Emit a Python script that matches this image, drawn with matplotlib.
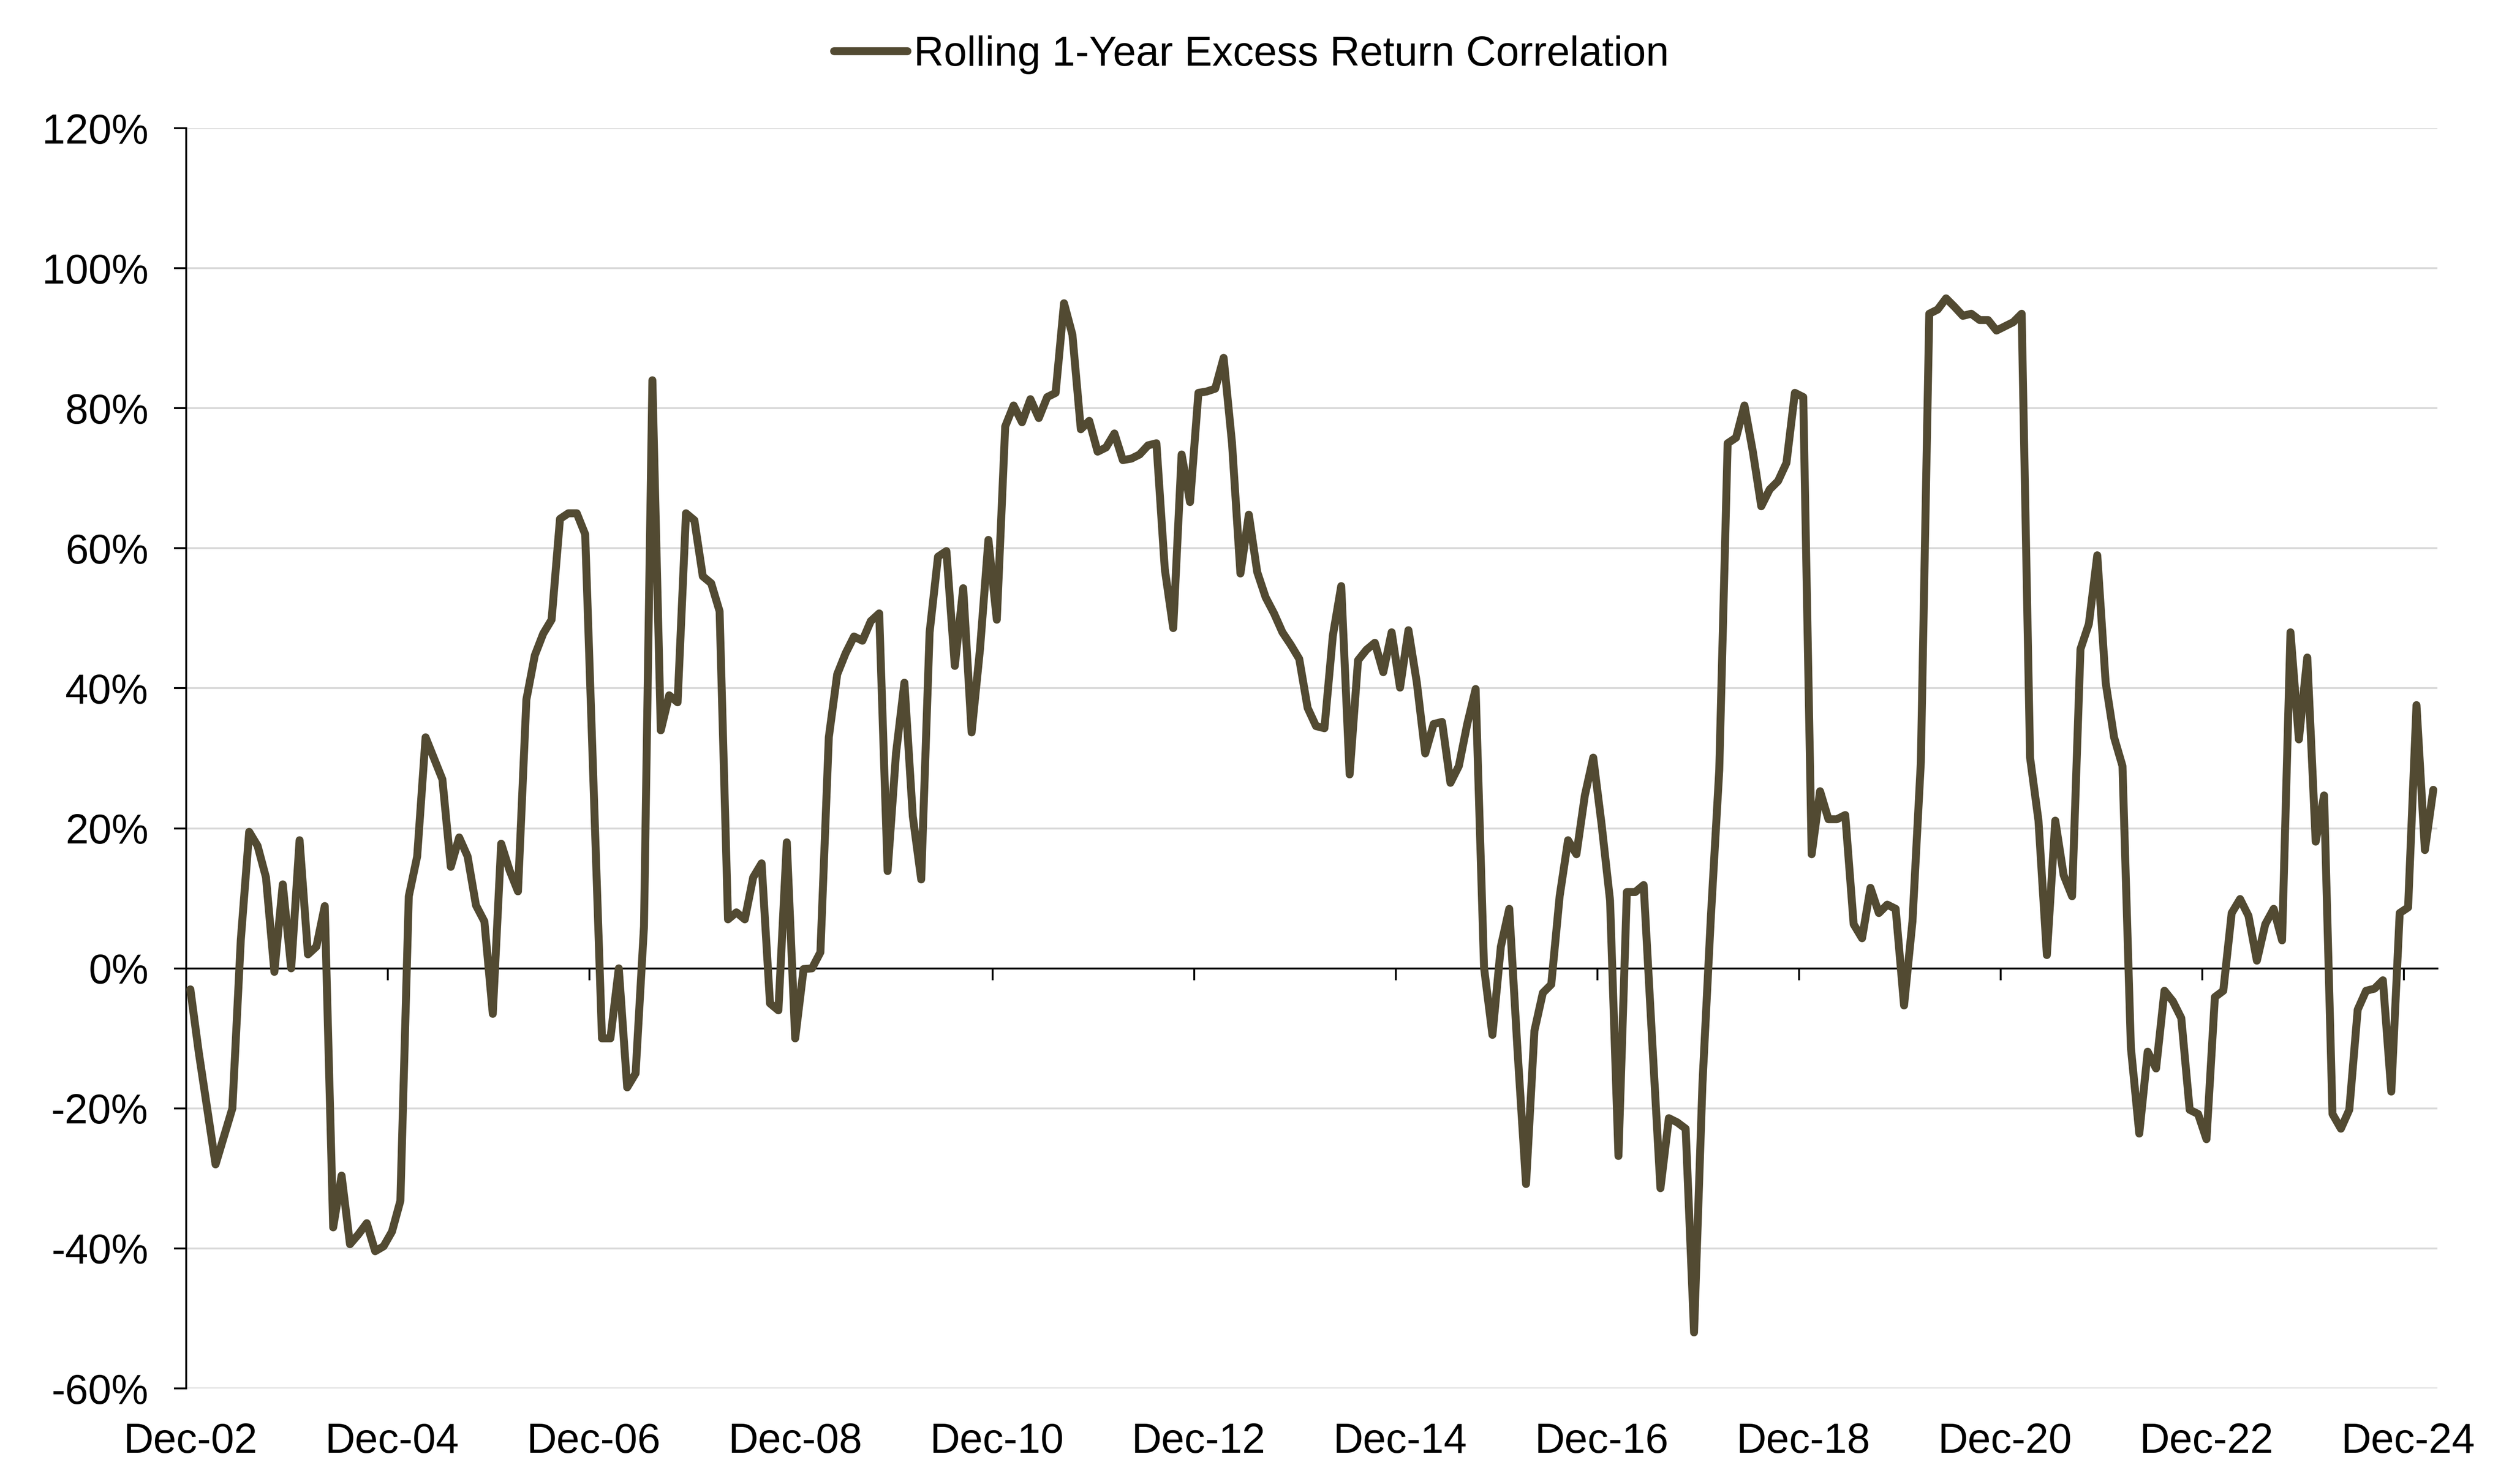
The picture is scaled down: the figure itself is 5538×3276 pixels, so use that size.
import pandas as pd
import matplotlib.pyplot as plt

plt.rcParams['font.family'] = ['Liberation Sans', 'DejaVu Sans']

# monthly observations, Dec-02 .. Mar-25 (correlation in %)
months = pd.date_range('2002-12-01', periods=268, freq='MS').strftime('%b-%y').tolist()

correlation = [
    -3, -12, -20, -28, -24, -20, 4, 19.5, 17.5, 13,
    -0.5, 12, 0, 18.3, 2, 3.1, 8.9, -37, -29.6, -39.4,
    -38, -36.4, -40.4, -39.7, -37.6, -33.2, 10.3, 16, 33, 30,
    27, 14.5, 18.7, 16, 9, 6.7, -6.5, 17.8, 14, 11,
    38.4, 44.7, 47.8, 49.8, 64.2, 65, 65, 62, 26, -10,
    -10, 0, -17, -15, 6, 84, 34, 39, 38, 65,
    64, 56, 55, 51, 7, 8, 7, 13, 15, -5,
    -6, 18, -10, -0.1, 0, 2.3, 33, 42, 45, 47.4,
    46.8, 49.6, 50.7, 13.9, 30.7, 40.8, 21.7, 12.7, 48, 58.8,
    59.6, 43.2, 54.3, 33.7, 45.6, 61.2, 49.8, 77.4, 80.4, 78,
    81.3, 78.6, 81.6, 82.2, 95, 90.5, 77, 78.2, 73.8, 74.4,
    76.4, 72.6, 72.8, 73.4, 74.7, 75, 57, 48.6, 73.4, 66.6,
    82.2, 82.4, 82.8, 87.2, 75, 56.4, 64.8, 56.6, 53, 50.7,
    48, 46.2, 44.2, 37.2, 34.6, 34.3, 47.5, 54.6, 27.7, 44,
    45.5, 46.5, 42.3, 48, 40.1, 48.3, 40.8, 30.7, 34.9, 35.2,
    26.5, 28.9, 34.9, 39.9, 0.1, -9.5, 3.1, 8.5, -12, -30.8,
    -8.9, -3.5, -2.3, 10.3, 18.3, 16.3, 24.7, 30.1, 20.5, 9.7,
    -26.8, 10.9, 10.9, 11.9, -10, -31.4, -21.4, -22, -22.9, -52,
    -16.5, 7.3, 28.3, 75, 75.8, 80.4, 73.8, 66, 68.4, 69.6,
    72.2, 82.2, 81.6, 16.3, 25.3, 21.3, 21.3, 21.9, 6.3, 4.3,
    11.5, 7.9, 9.1, 8.5, -5.3, 6.7, 29.5, 93.5, 94.1, 95.7,
    94.5, 93.2, 93.5, 92.6, 92.6, 91.1, 91.7, 92.3, 93.5, 30.1,
    21.1, 1.9, 21.1, 13.3, 10.3, 45.6, 49.2, 59, 40.8, 33,
    28.9, -11.3, -23.6, -11.9, -14.3, -3.2, -4.7, -7.1, -20.2, -20.8,
    -24.4, -4.1, -3.2, 7.9, 9.9, 7.5, 1.1, 6.3, 8.5, 4,
    48, 32.7, 44.4, 18.1, 24.7, -20.8, -22.9, -20.2, -5.9, -3.2,
    -2.9, -1.7, -17.6, 7.9, 8.7, 37.6, 16.9, 25.5,
]

y_ticks = [-60, -40, -20, 0, 20, 40, 60, 80, 100, 120]
label_every = 24

LINE_COLOR = '#524A32'

fig = plt.figure(figsize=(18.46, 10.92), dpi=300)
ax = fig.add_axes([0.0742, 0.0644, 0.8973, 0.8492])

x = list(range(len(correlation)))
ax.plot(x, correlation, color=LINE_COLOR, lw=4.2,
        solid_joinstyle='round', solid_capstyle='round',
        label='Rolling 1-Year Excess Return Correlation', zorder=3)

ax.set_xlim(-0.5, len(correlation) - 0.5)
ax.set_ylim(y_ticks[0], y_ticks[-1])

# y axis
ax.set_yticks(y_ticks)
ax.set_yticklabels([f'{v}%' for v in y_ticks])
ax.yaxis.grid(True, color='#D9D9D9', lw=1.0, zorder=0)
ax.tick_params(axis='y', direction='out', length=6.5, width=1.0,
               pad=13.5, labelsize=22, colors='black')

# category axis crossing at 0, tick marks between category groups
ax.spines['bottom'].set_position(('data', 0))
ax.spines['bottom'].set_linewidth(1.0)
ax.spines['left'].set_linewidth(1.0)
ax.spines['top'].set_visible(False)
ax.spines['right'].set_visible(False)
boundaries = [i - 0.5 for i in range(label_every, len(correlation), label_every)]
ax.set_xticks(boundaries)
ax.set_xticklabels([])
ax.tick_params(axis='x', direction='out', length=6.3, width=1.0)

# labels sit at the bottom of the plot area
label_pos = list(range(0, len(correlation), label_every))
sec = ax.secondary_xaxis('bottom')
sec.set_xticks(label_pos)
sec.set_xticklabels([months[i] for i in label_pos])
sec.tick_params(length=0, pad=18, labelsize=22)
sec.spines['bottom'].set_visible(False)

fig.legend(loc='center', bbox_to_anchor=(0.4988, 0.963), frameon=False,
           fontsize=22, handlelength=1.77, handletextpad=0.15)

fig.savefig('out.png', dpi=300, facecolor='white')
